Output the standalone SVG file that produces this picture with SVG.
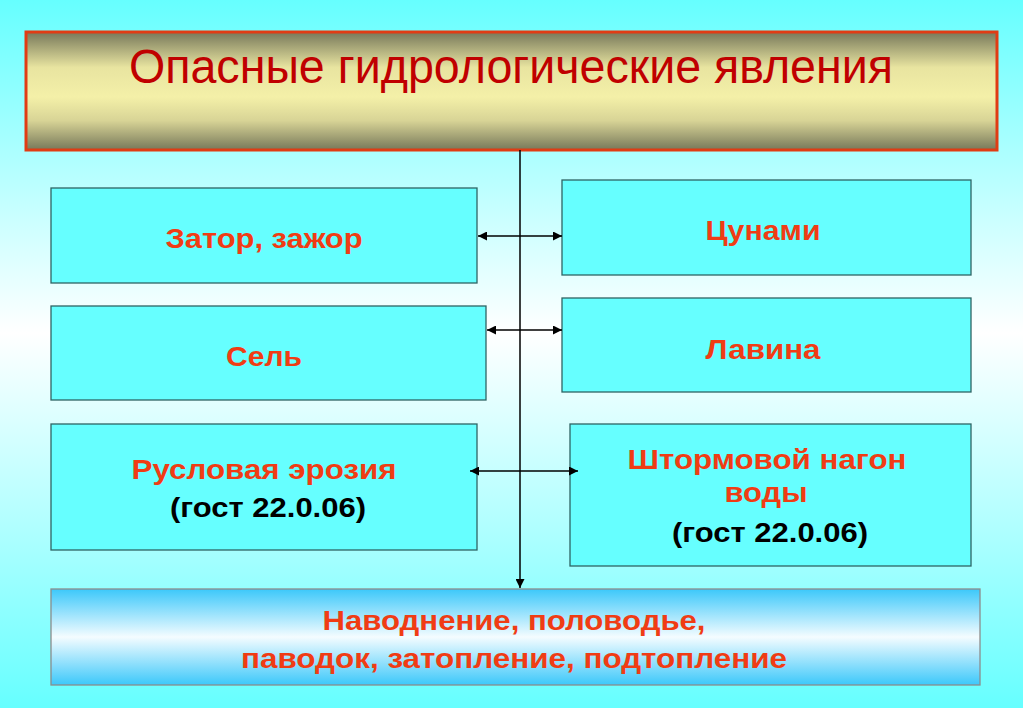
<svg xmlns="http://www.w3.org/2000/svg" width="1023" height="708" viewBox="0 0 1023 708">
<defs>
<linearGradient id="bg" x1="0" y1="0" x2="0" y2="1">
<stop offset="0" stop-color="#66FFFF"/>
<stop offset="0.47" stop-color="#FFFFFF"/>
<stop offset="1" stop-color="#66FFFF"/>
</linearGradient>
<linearGradient id="hdr" x1="0" y1="0" x2="0" y2="1">
<stop offset="0" stop-color="#77785A"/>
<stop offset="0.3" stop-color="#E8E4A0"/>
<stop offset="0.55" stop-color="#F4F0A8"/>
<stop offset="0.75" stop-color="#D8D496"/>
<stop offset="1" stop-color="#77785A"/>
</linearGradient>
<linearGradient id="bot" x1="0" y1="0" x2="0" y2="1">
<stop offset="0" stop-color="#3CC8FA"/>
<stop offset="0.5" stop-color="#F4FCFF"/>
<stop offset="1" stop-color="#3CC8FA"/>
</linearGradient>
<marker id="ah" viewBox="0 0 10 10" refX="10" refY="5" markerWidth="9" markerHeight="9" markerUnits="userSpaceOnUse" orient="auto-start-reverse">
<path d="M0,0 L10,5 L0,10 z" fill="#000"/>
</marker>
<style>
.box{fill:#66FFFF;stroke:#2E6464;stroke-width:1.3}
.t{font-family:"Liberation Sans",Arial,sans-serif;font-weight:bold;font-size:28px;fill:#F03C14;text-anchor:middle}
.k{fill:#000}
.c{stroke:#000;stroke-width:1.5;fill:none}
</style>
</defs>
<rect width="1023" height="708" fill="url(#bg)"/>
<g id="header">
<rect x="26" y="32" width="971" height="118" fill="url(#hdr)" stroke="#E03C14" stroke-width="3"/>
<text x="511" y="83" font-family="&quot;Liberation Sans&quot;,Arial,sans-serif" font-size="48" fill="#C00000" text-anchor="middle" textLength="764" lengthAdjust="spacingAndGlyphs">Опасные гидрологические явления</text>
</g>
<g id="zator">
<rect class="box" x="51" y="188" width="426" height="95"/>
<text class="t" x="264" y="248" textLength="197" lengthAdjust="spacingAndGlyphs">Затор, зажор</text>
</g>
<g id="tsunami">
<rect class="box" x="562" y="180" width="409" height="95"/>
<text class="t" x="763" y="240" textLength="115" lengthAdjust="spacingAndGlyphs">Цунами</text>
</g>
<g id="sel">
<rect class="box" x="51" y="306" width="435" height="94"/>
<text class="t" x="264" y="366" textLength="76" lengthAdjust="spacingAndGlyphs">Сель</text>
</g>
<g id="lavina">
<rect class="box" x="562" y="298" width="409" height="94"/>
<text class="t" x="763" y="359" textLength="115" lengthAdjust="spacingAndGlyphs">Лавина</text>
</g>
<g id="erosion">
<rect class="box" x="51" y="424" width="426" height="126"/>
<text class="t" x="264" y="479" textLength="265" lengthAdjust="spacingAndGlyphs">Русловая эрозия</text>
<text class="t k" x="268" y="517" textLength="196" lengthAdjust="spacingAndGlyphs">(гост 22.0.06)</text>
</g>
<g id="storm">
<rect class="box" x="570" y="424" width="401" height="142"/>
<text class="t" x="767" y="469" textLength="279" lengthAdjust="spacingAndGlyphs">Штормовой нагон</text>
<text class="t" x="766" y="502" textLength="83" lengthAdjust="spacingAndGlyphs">воды</text>
<text class="t k" x="770" y="542" textLength="196" lengthAdjust="spacingAndGlyphs">(гост 22.0.06)</text>
</g>
<g id="flood">
<rect x="51" y="589" width="929" height="96" fill="url(#bot)" stroke="#8C8C8C" stroke-width="1.3"/>
<text class="t" x="514" y="630" textLength="383" lengthAdjust="spacingAndGlyphs">Наводнение, половодье,</text>
<text class="t" x="514" y="668" textLength="546" lengthAdjust="spacingAndGlyphs">паводок, затопление, подтопление</text>
</g>
<g id="connectors">
<line class="c" x1="520" y1="150" x2="520" y2="588" marker-end="url(#ah)"/>
<line class="c" x1="478" y1="236" x2="562" y2="236" marker-start="url(#ah)" marker-end="url(#ah)"/>
<line class="c" x1="487" y1="330" x2="562" y2="330" marker-start="url(#ah)" marker-end="url(#ah)"/>
<line class="c" x1="470" y1="471" x2="578" y2="471" marker-start="url(#ah)" marker-end="url(#ah)"/>
</g>
</svg>
